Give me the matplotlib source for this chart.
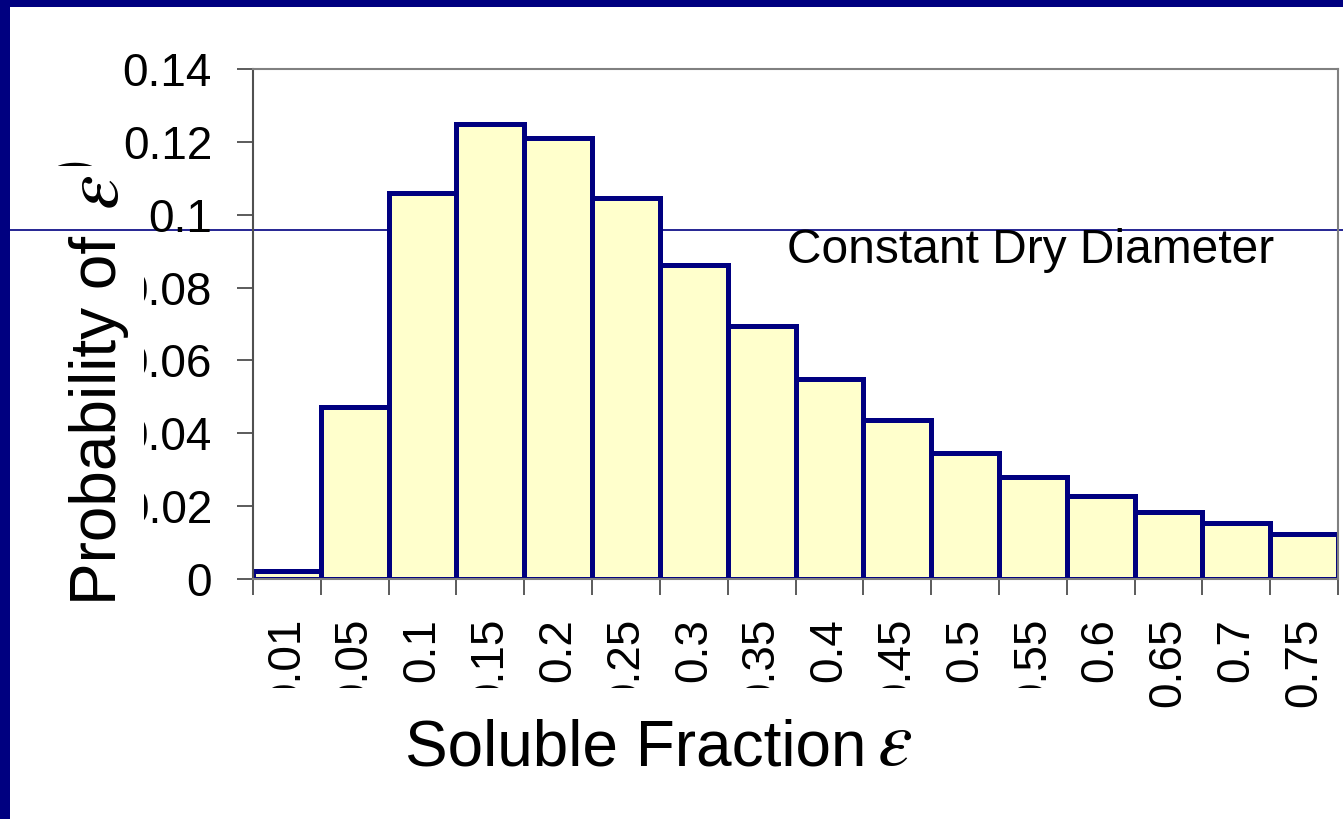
import numpy as np
import matplotlib
matplotlib.use("Agg")
import matplotlib.pyplot as plt
from matplotlib.patches import Rectangle
from matplotlib.lines import Line2D

plt.rcParams['font.family'] = ['Liberation Sans', 'DejaVu Sans']
plt.rcParams['mathtext.fontset'] = 'stix'

# data
fractions = ['0.01', '0.05', '0.1', '0.15', '0.2', '0.25', '0.3', '0.35',
             '0.4', '0.45', '0.5', '0.55', '0.6', '0.65', '0.7', '0.75']
probability = [0.0023, 0.0472, 0.106, 0.125, 0.121, 0.1046, 0.0862, 0.0694,
               0.0549, 0.0436, 0.0346, 0.0280, 0.0228, 0.0184, 0.0154, 0.0124]
yticks = [0, 0.02, 0.04, 0.06, 0.08, 0.1, 0.12, 0.14]
ytick_labels = ['0', '0.02', '0.04', '0.06', '0.08', '0.1', '0.12', '0.14']

NAVY = '#000080'
W, H = 1343, 819


def fx(px):
    return px / W


def fy(py):
    return 1 - py / H


def white_box(x0, y0, x1, y1, z=1):
    # pixel box, image coords (y down)
    fig.add_artist(Rectangle((fx(x0), fy(y1)), fx(x1) - fx(x0), fy(y0) - fy(y1),
                             transform=fig.transFigure, facecolor='white',
                             edgecolor='none', zorder=z))


fig = plt.figure(figsize=(W / 100, H / 100), dpi=100)

ax = fig.add_axes([fx(253), fy(579), fx(1338) - fx(253), fy(69) - fy(579)])
ax.set_facecolor('none')

x = np.arange(len(fractions))
ax.bar(x, probability, width=1.0, color='#FFFFCC', edgecolor=NAVY,
       linewidth=3.6, zorder=2)
ax.set_xlim(-0.5, len(fractions) - 0.5)
ax.set_ylim(0, 0.14)

ax.set_yticks(yticks)
ax.set_yticklabels(ytick_labels, fontsize=33)
ax.tick_params(axis='y', length=11.5, width=1.2, color='#404040', pad=18)

ax.set_xticks(np.arange(len(fractions) + 1) - 0.5)
ax.set_xticklabels([])
ax.set_xticks(x, minor=True)
ax.set_xticklabels(fractions, minor=True, rotation=90, fontsize=33)
ax.tick_params(axis='x', which='major', length=11.5, width=1.2, color='#404040')
ax.tick_params(axis='x', which='minor', length=0, pad=28)

for side in ['left', 'right', 'top', 'bottom']:
    ax.spines[side].set_color('#808080')
    ax.spines[side].set_linewidth(1.5)
ax.spines['left'].set_color('#505050')

# thin slide line running behind the bars
fig.add_artist(Line2D([0, 1], [fy(230), fy(230)], color=NAVY, lw=1.2, zorder=-1))

# white boxes behind the axis titles (they hide part of the tick labels)
white_box(12, 232, 144, 615)
white_box(255, 688, 1100, 812)

# y title: epsilon in a larger symbol size, closing bracket mostly hidden
fig.text(fx(116), fy(605), 'Probability of', rotation=90,
         rotation_mode='anchor', ha='left', va='baseline', fontsize=46, zorder=2)
fig.text(fx(93), fy(179), ')', rotation=90,
         rotation_mode='anchor', ha='left', va='baseline', fontsize=46, zorder=2)
white_box(30, 166, 122, 180, z=3)
white_box(92, 140, 122, 166, z=3)
white_box(30, 140, 58, 166, z=3)
fig.text(fx(118), fy(210), '$\\varepsilon$', rotation=90,
         rotation_mode='anchor', ha='left', va='baseline', fontsize=56, zorder=5)

# x title
fig.text(fx(405), fy(765), 'Soluble Fraction', fontsize=46,
         va='baseline', zorder=2)
fig.text(fx(877), fy(765), '$\\varepsilon$', fontsize=56,
         va='baseline', zorder=2)

fig.text(fx(787), fy(263), 'Constant Dry Diameter', fontsize=34.5,
         va='baseline', zorder=2)

# slide border
fig.add_artist(Rectangle((0, 0), fx(10), 1, transform=fig.transFigure,
                         facecolor=NAVY, edgecolor='none', zorder=6))
fig.add_artist(Rectangle((0, fy(7)), 1, 1 - fy(7), transform=fig.transFigure,
                         facecolor=NAVY, edgecolor='none', zorder=6))

fig.savefig('out.png', dpi=100)
